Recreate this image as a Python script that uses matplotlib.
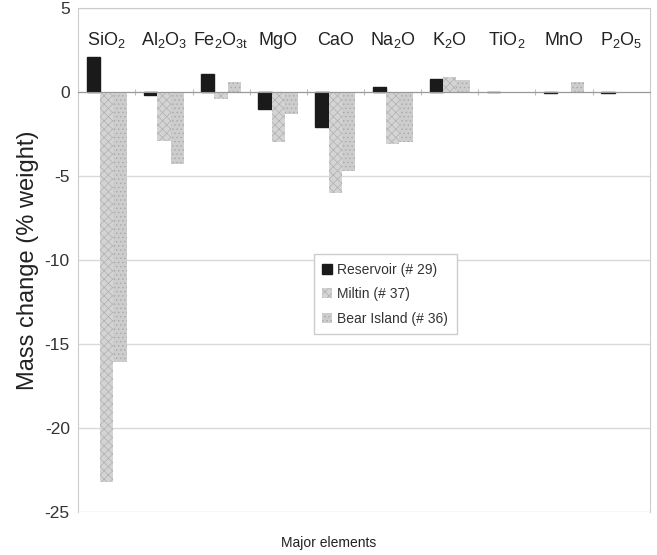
import matplotlib.pyplot as plt
import numpy as np

elements = ['SiO$_2$', 'Al$_2$O$_3$', 'Fe$_2$O$_{3t}$', 'MgO', 'CaO',
            'Na$_2$O', 'K$_2$O', 'TiO$_2$', 'MnO', 'P$_2$O$_5$']

reservoir = [2.1, -0.2, 1.1, -1.0, -2.1, 0.3, 0.8, 0.0, -0.05, -0.05]
miltin = [-23.2, -2.9, -0.4, -3.0, -6.0, -3.1, 0.9, 0.0, 0.0, -0.05]
bear_island = [-16.1, -4.3, 0.6, -1.3, -4.7, -3.0, 0.7, 0.0, 0.6, -0.05]

yticks = [5, 0, -5, -10, -15, -20, -25]

plt.rcParams['font.family'] = ['Liberation Sans', 'DejaVu Sans']
plt.rcParams['mathtext.fontset'] = 'custom'
plt.rcParams['mathtext.rm'] = 'Liberation Sans'
plt.rcParams['mathtext.it'] = 'Liberation Sans'
plt.rcParams['hatch.linewidth'] = 0.5

fig = plt.figure(figsize=(6.57, 5.55), dpi=100)
ax = fig.add_axes([0.119, 0.0775, 0.87, 0.908])

x = np.arange(len(elements))
w = 0.233

ax.bar(x - w, reservoir, w, color='#1a1a1a', edgecolor='#1a1a1a',
       label='Reservoir (# 29)', zorder=3)
ax.bar(x, miltin, w, color='#d4d4d4', edgecolor='#b0b0b0', hatch='xxxx',
       linewidth=0, label='Miltin (# 37)', zorder=3)
ax.bar(x + w, bear_island, w, color='#cdcdcd', edgecolor='#a8a8a8', hatch='....',
       linewidth=0, label='Bear Island (# 36)', zorder=3)

for i, name in enumerate(elements):
    ax.text(i, 2.8, name, ha='center', va='baseline', fontsize=13, color='#222222')

ax.set_xlim(-0.5, len(elements) - 0.5)
ax.set_ylim(-25, 5)
ax.set_yticks(yticks)
ax.set_yticklabels([str(v) for v in yticks], fontsize=12.5, color='#333333')
ax.tick_params(axis='y', length=0, pad=6)
ax.yaxis.grid(True, color='#d9d9d9', linewidth=1, zorder=0)

ax.spines['bottom'].set_position(('data', 0))
ax.spines['bottom'].set_color('#999999')
ax.spines['bottom'].set_zorder(4)
ax.set_xticks(np.arange(len(elements) + 1) - 0.5)
ax.set_xticklabels([])
ax.tick_params(axis='x', direction='inout', length=5, color='#bbbbbb')
for s in ['left', 'right', 'top']:
    ax.spines[s].set_color('#cccccc')

ax.set_ylabel('Mass change (% weight)', fontsize=17, color='#222222', labelpad=4)
fig.text(0.50, 0.022, 'Major elements', ha='center', va='center',
         fontsize=10, color='#222222')

leg = ax.legend(loc='upper left', bbox_to_anchor=(0.40, 0.525), fontsize=10,
                handlelength=0.7, handleheight=0.7, handletextpad=0.4,
                labelspacing=0.75, frameon=True, fancybox=False, framealpha=1,
                borderpad=0.6, edgecolor='#cccccc')
for t in leg.get_texts():
    t.set_color('#333333')

fig.savefig('out.png', dpi=100)
